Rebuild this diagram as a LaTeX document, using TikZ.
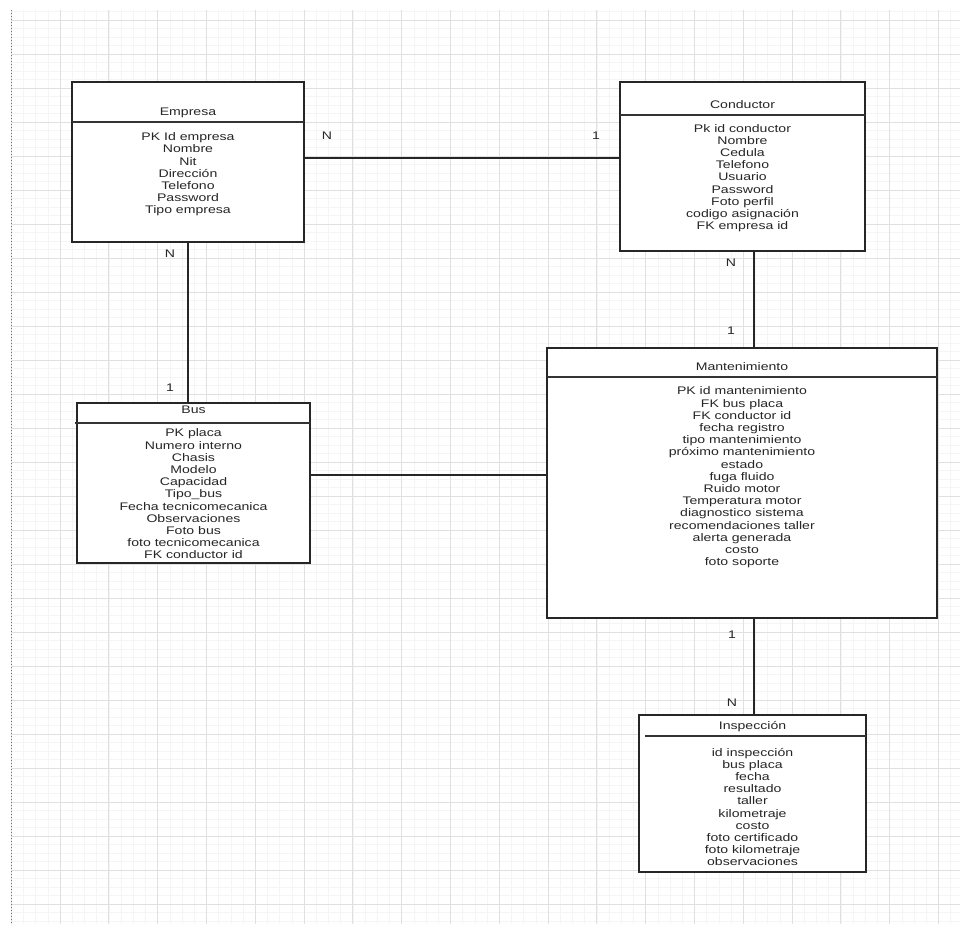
\documentclass[tikz,border=0pt]{standalone}
\usepackage{fontspec}
\setmainfont{Liberation Sans}[FakeStretch=1.28]
\begin{document}
\begin{tikzpicture}[x=1pt,y=-1pt,
  every node/.style={inner sep=0pt, text=black!85},
  ent/.style={draw=black!85, line width=1.8pt, fill=white, inner sep=0pt},
  hdr/.style={draw=black!80, line width=1.3pt},
  conn/.style={draw=black!85, line width=1.5pt},
  txt/.style={align=center, font=\fontsize{11}{12.2}\selectfont},
  card/.style={font=\fontsize{11}{12}\selectfont},
  minorg/.style={draw=black!4, line width=0.6pt},
  majorg/.style={draw=black!12, line width=0.9pt}]
\useasboundingbox (0,0) rectangle (960,924);
\fill[white] (0,0) rectangle (960,924);
% grid
\begin{scope}
\clip (11,10) rectangle (960,924);
\foreach \i in {0,...,78} {\draw[minorg] ({11.2+12.2*\i},10) -- ++(0,914);}
\foreach \j in {0,...,108} {\draw[minorg] (11,{11.5+8.5*\j}) -- ++(949,0);}
\foreach \i in {0,...,19} {\draw[majorg] ({11.2+48.8*\i},10) -- ++(0,914);}
\foreach \j in {0,...,27} {\draw[majorg] (11,{20+34*\j}) -- ++(949,0);}
\end{scope}
\draw[black!55, dotted, line width=1pt] (11,10) -- (11,924);

% Empresa
\node[ent, minimum width=232pt, minimum height=160pt] (emp) at (188,162) {};
\draw[hdr] (72,122) -- (304,122);
\node[txt] (empt) at (188,113) {Empresa};
\node[txt] (empa) at (188,174.5) {PK Id empresa\\Nombre\\Nit\\Dirección\\Telefono\\Password\\Tipo empresa};

% Conductor
\node[ent, minimum width=245pt, minimum height=169pt] (cond) at (742.5,166.5) {};
\draw[hdr] (620,115) -- (865,115);
\node[txt] (condt) at (742.5,105) {Conductor};
\node[txt] (conda) at (742.5,178) {Pk id conductor\\Nombre\\Cedula\\Telefono\\Usuario\\Password\\Foto perfil\\codigo asignación\\FK empresa id};

% Bus
\node[ent, minimum width=233pt, minimum height=160pt] (bus) at (193.5,483) {};
\draw[hdr] (75,423) -- (310,423);
\node[txt] (bust) at (193.5,410) {Bus};
\node[txt] (busa) at (193.5,494) {PK placa\\Numero interno\\Chasis\\Modelo\\Capacidad\\Tipo\_bus\\Fecha tecnicomecanica\\Observaciones\\Foto bus\\foto tecnicomecanica\\FK conductor id};

% Mantenimiento
\node[ent, minimum width=390pt, minimum height=270pt] (mant) at (742,483) {};
\draw[hdr] (547,377) -- (937,377);
\node[txt] (mantt) at (742,367) {Mantenimiento};
\node[txt] (manta) at (742,477.5) {PK id mantenimiento\\FK bus placa\\FK conductor id\\fecha registro\\tipo mantenimiento\\próximo mantenimiento\\estado\\fuga fluido\\Ruido motor\\Temperatura motor\\diagnostico sistema\\recomendaciones taller\\alerta generada\\costo\\foto soporte};

% Inspeccion
\node[ent, minimum width=227pt, minimum height=157pt] (insp) at (752.5,793.5) {};
\draw[hdr] (645,736) -- (866,736);
\node[txt] (inspt) at (752.5,727) {Inspección};
\node[txt] (inspa) at (752.5,807) {id inspección\\bus placa\\fecha\\resultado\\taller\\kilometraje\\costo\\foto certificado\\foto kilometraje\\observaciones};

% connectors
\draw[conn] (emp.east |- 0,158) -- (cond.west |- 0,158);
\draw[conn] (emp.south) -- (bus.north -| emp.south);
\draw[conn] (bus.east |- 0,475) -- (mant.west |- 0,475);
\draw[conn] (cond.south -| 754,0) -- (mant.north -| 754,0);
\draw[conn] (mant.south -| 754,0) -- (insp.north -| 754,0);

% cardinalities
\node[card] (l1) at (327,136) {N};
\node[card] (l2) at (596,136) {1};
\node[card] (l3) at (170,254) {N};
\node[card] (l4) at (170,388) {1};
\node[card] (l5) at (731,263) {N};
\node[card] (l6) at (731,331) {1};
\node[card] (l7) at (732,635) {1};
\node[card] (l8) at (732,703) {N};
\end{tikzpicture}
\end{document}
